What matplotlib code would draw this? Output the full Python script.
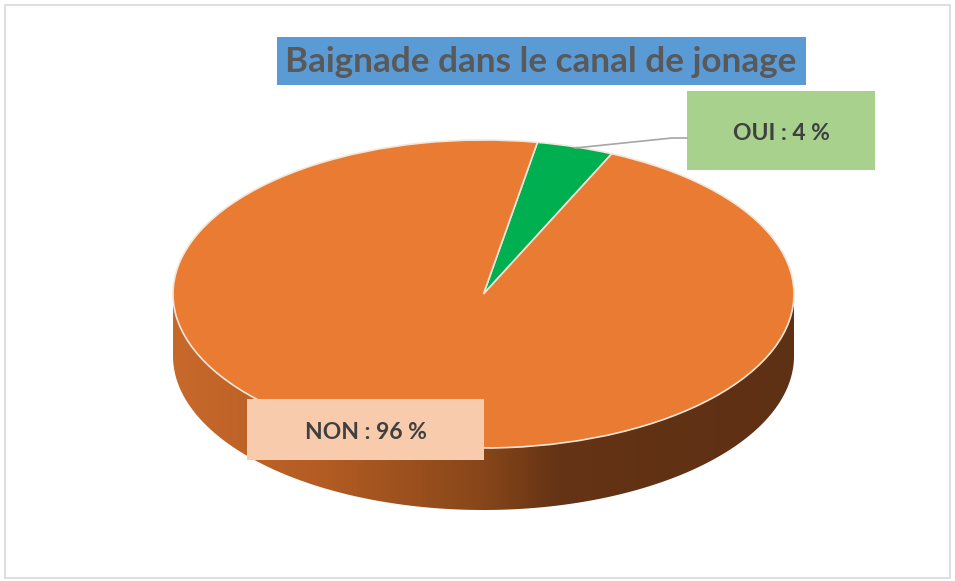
import numpy as np
import matplotlib.pyplot as plt
from matplotlib.colors import LinearSegmentedColormap
from matplotlib.patches import Rectangle, Polygon

labels = ["OUI", "NON"]
values = [4, 96]
colors = ["#00B050", "#E97B32"]
label_boxes = ["#A9D18E", "#F8CBAD"]
title = "Baignade dans le canal de jonage"

W, H = 955, 581
fig = plt.figure(figsize=(W / 100, H / 100), dpi=100)
fig.patch.set_facecolor("white")


def fx(px):
    return px / W


def fy(py):
    return 1 - py / H


# pie geometry in pixels (top ellipse)
cx, cy = 483.5, 294.0
rx, ry = 310.5, 154.0
depth = 62.0 / ry

ax = fig.add_axes([0, 0, 1, 1])

# side of the 3D pie, with gradient
t = np.linspace(np.pi, 2 * np.pi, 300)
top_edge = np.column_stack([np.cos(t), np.sin(t)])
bot_edge = np.column_stack([np.cos(t[::-1]), np.sin(t[::-1]) - depth])
side = Polygon(np.vstack([top_edge, bot_edge]), closed=True, facecolor="none", edgecolor="none")
ax.add_patch(side)
cmap = LinearSegmentedColormap.from_list(
    "side", [(0.0, "#C8692C"), (0.25, "#B25B23"), (0.5, "#874619"), (0.62, "#653315"), (1.0, "#5E3014")]
)
grad = np.linspace(0, 1, 256).reshape(1, -1)
im = ax.imshow(grad, cmap=cmap, extent=(-1, 1, -1 - depth, 0.05), aspect="auto", zorder=1)
im.set_clip_path(side)

wedges, _ = ax.pie(
    values,
    colors=colors,
    startangle=80,
    counterclock=False,
    wedgeprops=dict(edgecolor="#F3E6DA", linewidth=1.2),
)
for w in wedges:
    w.set_zorder(2)
ax.set_aspect("auto")
ax.set_xlim((0 - cx) / rx, (W - cx) / rx)
ax.set_ylim((cy - H) / ry, cy / ry)
ax.axis("off")

# outer border
fig.add_artist(Rectangle((fx(5), fy(578)), fx(945), (573) / H, transform=fig.transFigure,
                         facecolor="none", edgecolor="#D9D9D9", linewidth=1.2))

# title box
fig.add_artist(Rectangle((fx(277), fy(85)), fx(529), 48 / H, transform=fig.transFigure,
                         facecolor="#5B9BD5", edgecolor="none"))
fig.text(fx(541), fy(62), title, ha="center", va="center", fontsize=25.3,
         fontweight="bold", color="#595959", family="Lato")

# leader line for OUI
fig.add_artist(plt.Line2D([fx(575), fx(672), fx(687)], [fy(148), fy(138), fy(138)],
                          transform=fig.transFigure, color="#A6A6A6", linewidth=1.2))

# label boxes
boxes = {"OUI": (687, 91, 188, 79), "NON": (247, 399, 237, 61)}
for lab, val, bc in zip(labels, values, label_boxes):
    x0, y0, bw, bh = boxes[lab]
    fig.add_artist(Rectangle((fx(x0), fy(y0 + bh)), fx(bw), bh / H, transform=fig.transFigure,
                             facecolor=bc, edgecolor="none"))
    fig.text(fx(x0 + bw / 2), fy(y0 + bh / 2 + 3), f"{lab} : {val} %", ha="center", va="center",
             fontsize=16.5, fontweight="bold", color="#404040", family="Lato")

fig.savefig("out.png", dpi=100)
